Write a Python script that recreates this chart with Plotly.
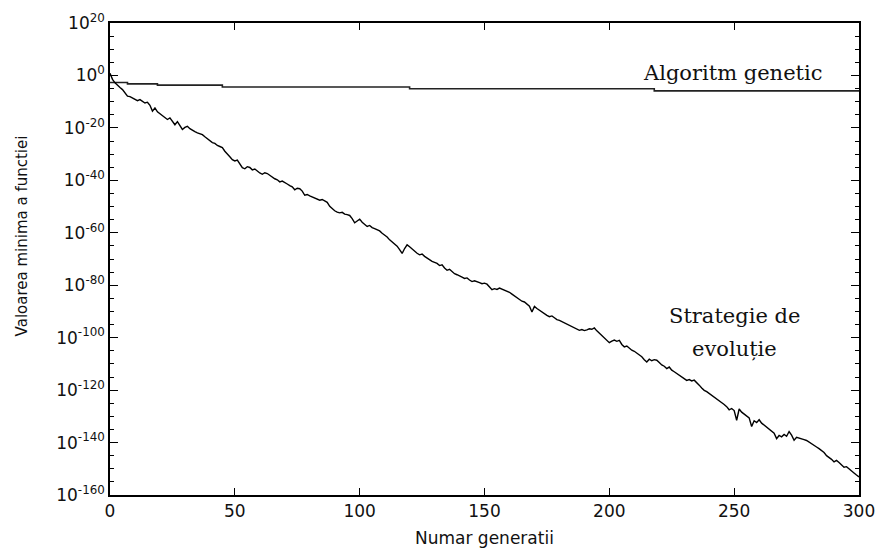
import plotly.graph_objects as go

# ---- data (log10 of the minimum function value) ----
es_log = [
    0.8, -1.5, -2.8, -3.9, -4.6, -5.4, -6.6, -7.9, -8.1, -8.6,
    -8.9, -9.6, -9.2, -9.8, -10.5, -10.2, -11.4, -13.6, -12.4, -13.9,
    -14.6, -15.3, -15.9, -16.8, -16.2, -17.5, -18.8, -17.6, -18.9, -20.6,
    -19.8, -19.4, -20.3, -21.0, -21.4, -21.9, -22.3, -22.6, -23.4, -24.2,
    -25.0, -25.6, -25.9, -26.7, -27.1, -27.5, -28.9, -29.8, -31.0, -32.1,
    -32.6, -32.3, -33.9, -35.2, -35.6, -34.8, -35.1, -36.0, -35.7, -36.6,
    -37.2, -37.7, -37.1, -37.4, -38.1, -38.6, -39.4, -39.8, -40.6, -40.3,
    -41.0, -41.4, -42.0, -42.5, -43.6, -43.0, -43.2, -44.1, -45.7, -45.4,
    -45.9, -46.4, -46.8, -47.1, -47.6, -47.3, -47.9, -48.4, -49.9, -50.8,
    -51.6, -52.1, -52.4, -52.2, -52.9, -53.1, -53.4, -54.6, -56.2, -55.5,
    -54.8, -56.0, -56.9, -57.6, -57.2, -58.0, -58.4, -58.9, -59.3, -60.2,
    -60.9, -61.6, -62.7, -63.5, -64.6, -65.1, -66.4, -67.9, -66.0, -64.6,
    -65.3, -66.2, -67.1, -67.8, -68.4, -68.1, -69.0, -69.7, -70.2, -70.9,
    -71.3, -71.7, -72.5, -72.2, -73.4, -74.3, -73.9, -74.8, -75.6, -76.0,
    -76.3, -76.9, -77.4, -77.2, -78.0, -78.6, -78.3, -78.8, -79.0, -79.4,
    -79.2, -79.6, -80.6, -81.7, -81.3, -81.6, -81.1, -81.5, -81.9, -82.2,
    -82.7, -83.4, -84.1, -84.6, -85.4, -86.1, -86.4, -87.2, -88.0, -90.2,
    -88.1, -88.9, -89.6, -90.4, -91.0, -91.5, -92.0, -91.7, -92.4, -93.1,
    -93.4, -93.9, -94.1, -94.6, -95.2, -95.8, -96.1, -96.6, -97.2, -96.9,
    -97.3, -97.0, -96.6, -96.8, -96.3, -97.4, -98.3, -99.0, -99.8, -100.9,
    -101.9, -101.3, -100.9, -101.4, -101.0, -102.6, -103.5, -103.2, -104.1, -104.8,
    -105.2, -105.9, -106.6, -107.3, -108.4, -109.3, -108.2, -108.8, -108.4, -108.6,
    -109.5, -110.4, -110.9, -111.8, -111.2, -112.4, -113.0, -113.7, -114.2, -115.0,
    -115.6, -116.3, -116.0, -116.5, -116.2, -117.0, -118.1, -119.2, -120.1, -120.6,
    -121.3, -122.0, -122.4, -123.1, -123.9, -124.6, -125.5, -126.3, -127.5, -127.0,
    -127.8, -131.5, -127.2, -128.4, -129.1, -129.8, -130.6, -133.9, -131.7, -132.4,
    -131.3, -132.6, -133.4, -134.2, -134.8, -135.6, -136.4, -138.5, -137.3, -137.8,
    -136.9, -137.6, -135.8, -137.2, -139.1, -138.0, -138.4, -138.7, -138.9, -139.2,
    -139.9, -140.4, -141.0, -141.7, -142.3, -143.0, -143.8, -145.0, -145.6, -146.4,
    -147.4, -146.8, -147.6, -148.5, -149.4, -149.2, -150.1, -150.9, -151.6, -152.4,
    -153.1,
]
es_gen = list(range(len(es_log)))

ga_gen = [0, 7, 19, 45, 120, 218, 300]
ga_log = [-2.7, -3.2, -3.7, -4.4, -5.1, -5.9, -5.9]

y_tick_exp = [20, 0, -20, -40, -60, -80, -100, -120, -140, -160]
y_minor_exp = [e for e in range(20, -161, -5) if e % 20 != 0]
x_ticks = [0, 50, 100, 150, 200, 250, 300]

label_ga = "Algoritm genetic"
label_es_1 = "Strategie de"
label_es_2 = "evoluție"
x_title = "Numar generatii"
y_title = "Valoarea minima a functiei"

fig = go.Figure()
fig.add_trace(go.Scatter(
    x=ga_gen, y=[10.0 ** v for v in ga_log], mode="lines", line_shape="hv",
    line=dict(color="#222222", width=1.6), showlegend=False, hoverinfo="skip"))
fig.add_trace(go.Scatter(
    x=es_gen, y=[10.0 ** v for v in es_log], mode="lines",
    line=dict(color="#000000", width=1.4), showlegend=False, hoverinfo="skip"))

tickfont = dict(family="DejaVu Sans", size=17, color="#111111")
serif = dict(family="DejaVu Serif", size=21, color="#111111")

fig.update_layout(
    width=881, height=551,
    margin=dict(l=110, r=22, t=23, b=56),
    paper_bgcolor="white", plot_bgcolor="white",
    xaxis=dict(
        range=[0, 300], tickvals=x_ticks, ticktext=[str(t) for t in x_ticks],
        ticks="inside", ticklen=7, tickwidth=1, tickcolor="black",
        showline=True, linecolor="black", linewidth=1.5, mirror="ticks",
        showgrid=False, zeroline=False, tickfont=tickfont, automargin=False,
    ),
    yaxis=dict(
        type="log", range=[-160, 20],
        tickvals=[10.0 ** e for e in y_tick_exp],
        ticktext=["10<sup>%d</sup>" % e for e in y_tick_exp],
        ticks="inside", ticklen=8, tickwidth=1, tickcolor="black",
        showline=True, linecolor="black", linewidth=1.5, mirror="ticks",
        showgrid=False, zeroline=False, tickfont=tickfont, automargin=False,
        minor=dict(tickmode="array", tickvals=[10.0 ** e for e in y_minor_exp],
                   ticks="inside", ticklen=4, tickcolor="black", showgrid=False),
    ),
    annotations=[
        dict(x=249.5, y=0.9, xref="x", yref="y", text=label_ga, showarrow=False,
             font=serif, xanchor="center", yanchor="middle"),
        dict(x=250.3, y=-91.8, xref="x", yref="y", text=label_es_1, showarrow=False,
             font=serif, xanchor="center", yanchor="middle"),
        dict(x=250.3, y=-104.3, xref="x", yref="y", text=label_es_2, showarrow=False,
             font=serif, xanchor="center", yanchor="middle"),
        dict(x=0.5, y=-0.091, xref="paper", yref="paper", text=x_title, showarrow=False,
             font=dict(family="DejaVu Sans", size=17, color="#111111"),
             xanchor="center", yanchor="middle"),
        dict(x=-0.1175, y=0.55, xref="paper", yref="paper", text=y_title, showarrow=False,
             textangle=-90,
             font=dict(family="DejaVu Sans", size=15, color="#111111"),
             xanchor="center", yanchor="middle"),
    ],
)

fig.write_html("out.html", config={"displayModeBar": False},
               post_script="document.body.style.margin='0';")
